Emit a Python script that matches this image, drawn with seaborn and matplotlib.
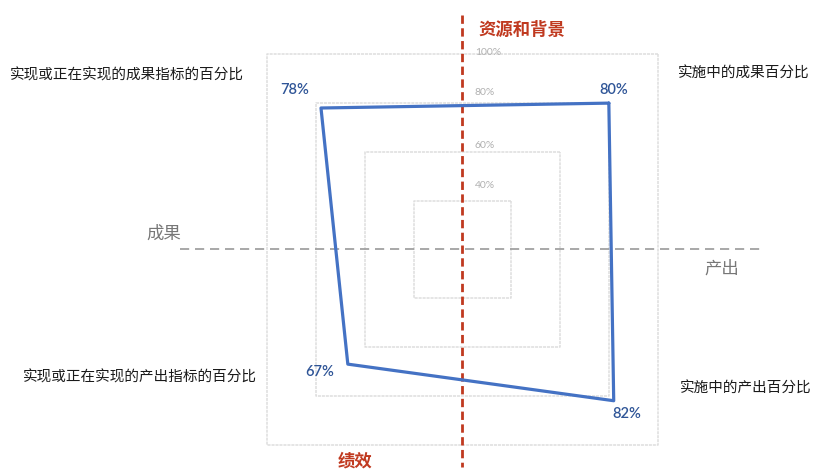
import numpy as np
import matplotlib
matplotlib.use('Agg')
import matplotlib.pyplot as plt
import seaborn as sns
import pandas as pd

# --- dados ---
categorias = ['实施中的成果百分比', '实现或正在实现的成果指标的百分比',
              '实现或正在实现的产出指标的百分比', '实施中的产出百分比']
angulos_graus = [45, 135, 225, 315]
valores = [80, 78, 67, 82]
niveis_grade = [40, 60, 80, 100]
rotulos_grade = ['40%', '60%', '80%', '100%']
r_min, r_max = 20, 100

sns.set_theme(style='white')
plt.rcParams['font.family'] = ['Noto Sans CJK SC', 'DejaVu Sans']

fig = plt.figure(figsize=(8.14, 4.71), dpi=100)
# eixo polar quadrado centrado em (462, 250) px, raio 276 px
ax = fig.add_axes([0.2291, -0.1157, 0.6781, 1.172], projection='polar')
ax.set_ylim(r_min, r_max)
ax.grid(False)
ax.set_xticks([])
ax.set_yticks([])
ax.spines['polar'].set_visible(False)
ax.patch.set_alpha(0)

theta = np.deg2rad(angulos_graus)
theta_fechado = np.append(theta, theta[0])

# grade quadrada
for nivel in niveis_grade:
    ax.plot(theta_fechado, [nivel] * 5, color='#dedede', lw=1.1, ls=(0, (2, 0.6)),
            clip_on=False, zorder=1)

# linhas tracejadas (eixos)
ax.plot([np.pi / 2, 3 * np.pi / 2], [88, 83], color='#C0391F', lw=2.0,
        dashes=(3.0, 1.6), clip_on=False, zorder=2)
ax.plot([np.pi, 0], [101.9, 106.2], color='#9a9a9a', lw=1.2,
        dashes=(5.5, 3.5), clip_on=False, zorder=2)

# polígono dos dados
df = pd.DataFrame({'theta': theta_fechado, 'valor': valores + [valores[0]]})
sns.lineplot(data=df, x='theta', y='valor', ax=ax, sort=False, estimator=None,
             color='#4472C4', lw=2.3, zorder=3)
ax.set_xlabel('')
ax.set_ylabel('')
for l in ax.lines:
    l.set_clip_on(False)

# rótulos de valores
offsets_valor = [(3.6, 9.4), (-18.7, 13), (-20, -6), (9.4, -9.6)]
for t, v, off in zip(theta, valores, offsets_valor):
    ax.annotate(f'{v}%', xy=(t, v), xytext=off, textcoords='offset points',
                ha='center', va='center', fontsize=10.5, color='#2F5597',
                family=['Lato', 'DejaVu Sans'], fontweight='semibold')

# rótulos da grade
offsets_grade = [11, 4.5, 8, 1]
for nivel, rot, dy in zip(niveis_grade, rotulos_grade, offsets_grade):
    r_lado = r_min + (nivel - r_min) / np.sqrt(2)
    ax.annotate(rot, xy=(np.pi / 2, r_lado), xytext=(9, dy), textcoords='offset points',
                ha='left', va='center', fontsize=7.5, color='#b0b0b0',
                family=['Lato', 'DejaVu Sans'])

# rótulos das categorias
pos_cat = [(744 / 814, 1 - 74 / 471), (126.5 / 814, 1 - 75 / 471),
           (139.5 / 814, 1 - 377 / 471), (746 / 814, 1 - 389 / 471)]
for nome, (x, y) in zip(categorias, pos_cat):
    fig.text(x, y, nome, ha='center', va='center', fontsize=10.5, color='#1a1a1a')

fig.text(522 / 814, 1 - 30 / 471, '资源和背景', ha='center', va='center',
         fontsize=12.5, color='#C0391F', fontweight='bold')
fig.text(355 / 814, 1 - 462 / 471, '绩效', ha='center', va='center',
         fontsize=12.5, color='#C0391F', fontweight='bold')
fig.text(164 / 814, 1 - 234 / 471, '成果', ha='center', va='center',
         fontsize=12.5, color='#777777')
fig.text(722 / 814, 1 - 269 / 471, '产出', ha='center', va='center',
         fontsize=12.5, color='#777777')

fig.savefig('out.png', dpi=100)
